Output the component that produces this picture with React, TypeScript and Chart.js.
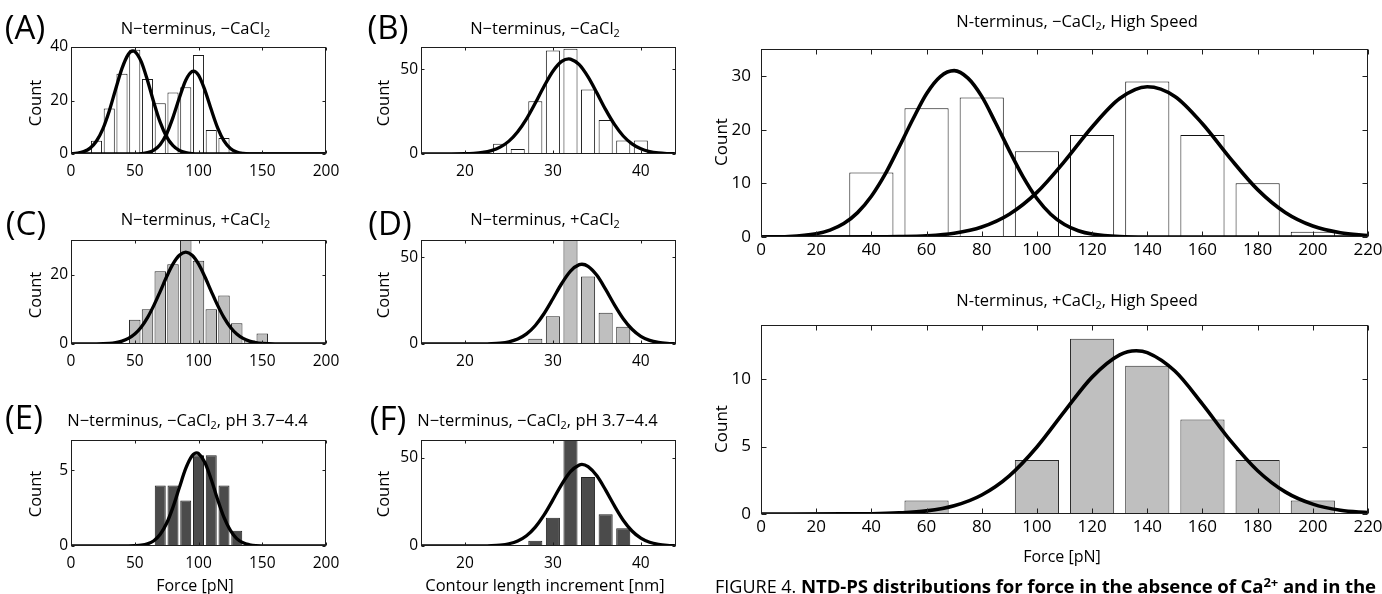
import React, { useEffect, useRef } from "react";
import { Chart, registerables } from "chart.js";

Chart.register(...registerables);

const SANS = "'Open Sans', 'Noto Sans', sans-serif";
Chart.defaults.font.family = SANS;

// ---------- tick labels ----------
const forceTicks200 = [0, 50, 100, 150, 200];
const contourTicks = [20, 30, 40];
const forceTicks220 = [0, 20, 40, 60, 80, 100, 120, 140, 160, 180, 200, 220];
const countTicksA = [0, 20, 40];
const countTicksB = [0, 50];
const countTicksC = [0, 20];
const countTicksD = [0, 50];
const countTicksE = [0, 5];
const countTicksF = [0, 50];
const countTicksHS1 = [0, 10, 20, 30];
const countTicksHS2 = [0, 5, 10];

// ---------- (A) force, -CaCl2 ----------
const forceBinsA = [20, 30, 40, 50, 60, 70, 80, 90, 100, 110, 120];
const forceCountsA = [5, 17, 30, 39, 28, 19, 23, 25, 37, 9, 6];
const fitA1X = [0, 5, 10, 15, 20, 25, 30, 35, 40, 45, 48.5, 50, 55, 60, 65, 70, 75, 80, 85, 90, 95, 100, 200];
const fitA1Y = [0.1, 0.31, 0.88, 2.2, 4.85, 9.4, 16.1, 24.2, 32.0, 37.3, 38.5, 38.3, 34.6, 27.5, 19.2, 11.8, 6.4, 3.1, 1.3, 0.48, 0.15, 0.05, 0];
const fitA2X = [0, 40, 50, 55, 60, 65, 70, 75, 80, 85, 90, 95, 96, 100, 105, 110, 115, 120, 125, 130, 135, 140, 150, 200];
const fitA2Y = [0, 0.01, 0.04, 0.14, 0.49, 1.43, 3.57, 7.56, 13.7, 21.0, 27.6, 30.9, 31.0, 29.5, 23.9, 16.6, 9.8, 4.9, 2.1, 0.77, 0.24, 0.06, 0.01, 0];

// ---------- (B) contour length, -CaCl2 ----------
const contourBinsB = [24, 26, 28, 30, 32, 34, 36, 38, 40, 42];
const contourCountsB = [6, 3, 31, 61, 62, 38, 20, 8, 8, 1];
const fitBX = [15, 20, 21, 22, 23, 24, 25, 26, 27, 28, 29, 30, 31, 31.8, 32, 33, 34, 35, 36, 37, 38, 39, 40, 41, 42, 43, 44];
const fitBY = [0, 0.14, 0.36, 0.88, 1.97, 4.03, 7.58, 13.1, 20.7, 30.0, 39.9, 48.7, 54.5, 56.0, 55.9, 52.6, 45.4, 36.0, 26.1, 17.4, 10.6, 5.95, 3.06, 1.44, 0.62, 0.25, 0.09];

// ---------- (C) force, +CaCl2 ----------
const forceBinsC = [50, 60, 70, 80, 90, 100, 110, 120, 130, 140, 150];
const forceCountsC = [7, 10, 21, 23, 30, 24, 10, 14, 6, 1, 3];
const fitCX = [0, 20, 30, 35, 40, 45, 50, 55, 60, 65, 70, 75, 80, 85, 90, 95, 100, 105, 110, 115, 120, 125, 130, 135, 140, 145, 150, 160, 200];
const fitCY = [0, 0.03, 0.18, 0.4, 0.83, 1.61, 2.89, 4.86, 7.62, 11.15, 15.2, 19.4, 23.1, 25.6, 26.5, 25.6, 23.1, 19.4, 15.2, 11.15, 7.62, 4.86, 2.89, 1.61, 0.83, 0.4, 0.18, 0.03, 0];

// ---------- (D) contour length, +CaCl2 ----------
const contourBinsD = [28, 30, 32, 34, 36, 38];
const contourCountsD = [3, 16, 60, 39, 18, 10];
const fitDX = [15, 22, 23, 24, 25, 26, 27, 28, 29, 30, 31, 32, 33, 33.3, 34, 35, 36, 37, 38, 39, 40, 41, 42, 43, 44];
const fitDY = [0, 0.06, 0.18, 0.51, 1.28, 2.87, 5.83, 10.7, 17.6, 26.1, 34.9, 42.1, 45.8, 46.0, 44.8, 39.6, 31.5, 22.6, 14.6, 8.5, 4.45, 2.1, 0.9, 0.34, 0.12];

// ---------- (E) force, -CaCl2, pH 3.7-4.4 ----------
const forceBinsE = [70, 80, 90, 100, 110, 120, 130];
const forceCountsE = [4, 4, 3, 6, 6, 4, 1];
const fitEX = [0, 40, 50, 55, 60, 65, 70, 75, 80, 85, 90, 95, 98.5, 100, 105, 110, 115, 120, 125, 130, 135, 140, 145, 150, 200];
const fitEY = [0, 0, 0.02, 0.05, 0.14, 0.35, 0.77, 1.5, 2.57, 3.86, 5.12, 5.96, 6.15, 6.11, 5.52, 4.39, 3.07, 1.89, 1.03, 0.49, 0.21, 0.08, 0.02, 0.01, 0];

// ---------- (F) contour length, -CaCl2, pH 3.7-4.4 ----------
const contourBinsF = [28, 30, 32, 34, 36, 38];
const contourCountsF = [3, 16, 60, 39, 18, 10];
const fitFX = [15, 22, 23, 24, 25, 26, 27, 28, 29, 30, 31, 32, 33, 33.3, 34, 35, 36, 37, 38, 39, 40, 41, 42, 43, 44];
const fitFY = [0, 0.06, 0.18, 0.51, 1.28, 2.87, 5.83, 10.7, 17.6, 26.1, 34.9, 42.1, 45.8, 46.2, 44.9, 39.7, 31.6, 22.7, 14.6, 8.5, 4.45, 2.1, 0.9, 0.34, 0.12];

// ---------- High speed, -CaCl2 ----------
const forceBinsHS1 = [40, 60, 80, 100, 120, 140, 160, 180, 200];
const forceCountsHS1 = [12, 24, 26, 16, 19, 29, 19, 10, 1];
const fitHS1aX = [0, 10, 20, 25, 30, 35, 40, 45, 50, 55, 60, 65, 70, 75, 80, 85, 90, 95, 100, 105, 110, 115, 120, 130, 140, 220];
const fitHS1aY = [0.01, 0.1, 0.6, 1.28, 2.5, 4.54, 7.59, 11.7, 16.7, 21.9, 26.7, 29.9, 31.0, 29.6, 26.2, 21.3, 16.1, 11.2, 7.17, 4.25, 2.32, 1.17, 0.55, 0.09, 0.01, 0];
const fitHS1bX = [0, 40, 50, 60, 70, 80, 90, 100, 110, 120, 130, 140, 150, 160, 170, 180, 190, 200, 210, 220];
const fitHS1bY = [0, 0.02, 0.07, 0.23, 0.71, 1.87, 4.25, 8.32, 14.1, 20.5, 25.8, 28.0, 26.2, 21.1, 14.7, 8.83, 4.57, 2.04, 0.79, 0.26];

// ---------- High speed, +CaCl2 ----------
const forceBinsHS2 = [60, 100, 120, 140, 160, 180, 200];
const forceCountsHS2 = [1, 4, 13, 11, 7, 4, 1];
const fitHS2X = [0, 30, 40, 50, 60, 70, 80, 90, 100, 110, 120, 130, 136, 140, 150, 160, 170, 180, 190, 200, 210, 220];
const fitHS2Y = [0, 0.01, 0.02, 0.08, 0.23, 0.61, 1.41, 2.83, 4.97, 7.61, 10.15, 11.8, 12.1, 11.97, 10.6, 8.15, 5.48, 3.21, 1.64, 0.73, 0.28, 0.1];

const WHITE = "#ffffff";
const LIGHT = "#bfbfbf";
const DARK = "#4b4b4b";

const boxPlugin = {
  id: "matlabBox",
  afterDatasetsDraw(chart: any, _a: any, opts: any) {
    const { ctx, chartArea: a, scales } = chart;
    const len = opts.tickLen || 3;
    ctx.save();
    ctx.strokeStyle = "#1e1e1e";
    ctx.lineWidth = 1;
    const L = Math.round(a.left) + 0.5;
    const R = Math.round(a.right) - 0.5;
    const T = Math.round(a.top) + 0.5;
    const B = Math.round(a.bottom) - 0.5;
    ctx.strokeRect(L, T, R - L, B - T);
    ctx.beginPath();
    scales.x.ticks.forEach((t: any) => {
      const p = Math.round(scales.x.getPixelForValue(t.value)) + 0.5;
      ctx.moveTo(p, B);
      ctx.lineTo(p, B - len);
      ctx.moveTo(p, T);
      ctx.lineTo(p, T + len);
    });
    scales.y.ticks.forEach((t: any) => {
      const p = Math.round(scales.y.getPixelForValue(t.value)) + 0.5;
      ctx.moveTo(L, p);
      ctx.lineTo(L + len, p);
      ctx.moveTo(R, p);
      ctx.lineTo(R - len, p);
    });
    ctx.stroke();
    ctx.restore();
  },
};

function HistPanel({ s }: { s: any }) {
  const ref = useRef<HTMLCanvasElement | null>(null);
  const yW = 60;
  const padT = 14;
  const padR = 24;
  const xH = s.big ? 34 : 40;
  const w = yW + (s.right - s.left) + padR;
  const h = padT + (s.bottom - s.top) + xH;
  useEffect(() => {
    const tickSize = s.big ? 17 : 15.5;
    const datasets: any[] = s.curves.map((c: any) => ({
      type: "line",
      data: c.x.map((x: number, i: number) => ({ x, y: c.y[i] })),
      borderColor: "#000",
      borderWidth: s.big ? 3.6 : 3.3,
      pointRadius: 0,
      cubicInterpolationMode: "monotone",
      fill: false,
      order: 0,
    }));
    datasets.push({
      type: "bar",
      data: s.bins.map((x: number, i: number) => ({ x, y: s.counts[i] })),
      backgroundColor: s.fill,
      borderColor: s.edge,
      borderWidth: 1,
      borderSkipped: false,
      barPercentage: s.barPct,
      categoryPercentage: 1,
      order: 1,
    });
    const chart = new Chart(ref.current as HTMLCanvasElement, {
      type: "bar",
      data: { datasets },
      options: {
        animation: false,
        responsive: false,
        maintainAspectRatio: false,
        devicePixelRatio: 1,
        events: [],
        layout: { padding: { top: padT, right: padR, left: 0, bottom: 0 } },
        plugins: {
          legend: { display: false },
          tooltip: { enabled: false },
          matlabBox: { tickLen: s.big ? 5 : 3 },
        } as any,
        scales: {
          x: {
            type: "linear",
            min: s.xMin,
            max: s.xMax,
            offset: false,
            grid: { display: false, drawTicks: false, offset: false },
            border: { display: false },
            ticks: {
              color: "#000",
              font: { family: SANS, size: tickSize },
              padding: s.big ? 2.5 : 8.5,
              maxRotation: 0,
              autoSkip: false,
            },
            afterBuildTicks: (sc: any) => {
              sc.ticks = s.xTicks.map((v: number) => ({ value: v }));
            },
            afterFit: (sc: any) => {
              sc.height = xH;
            },
          },
          y: {
            type: "linear",
            min: 0,
            max: s.yMax,
            grid: { display: false, drawTicks: false },
            border: { display: false },
            ticks: {
              color: "#000",
              font: { family: SANS, size: tickSize },
              padding: s.big ? 10 : 3,
            },
            afterBuildTicks: (sc: any) => {
              sc.ticks = s.yTicks.map((v: number) => ({ value: v }));
            },
            afterFit: (sc: any) => {
              sc.width = yW;
            },
          },
        } as any,
      } as any,
      plugins: [boxPlugin],
    });
    return () => chart.destroy();
  }, []);
  return (
    <canvas
      ref={ref}
      width={w}
      height={h}
      style={{ position: "absolute", left: s.left - yW, top: s.top - padT, width: w, height: h }}
    />
  );
}

const panels: any[] = [
  { left: 71, top: 47, right: 326, bottom: 154, xMin: 0, xMax: 200, xTicks: forceTicks200, yMax: 40, yTicks: countTicksA,
    bins: forceBinsA, counts: forceCountsA, fill: WHITE, edge: "#1a1a1a", barPct: 0.87,
    curves: [{ x: fitA1X, y: fitA1Y }, { x: fitA2X, y: fitA2Y }] },
  { left: 421, top: 47, right: 676, bottom: 154, xMin: 15, xMax: 44, xTicks: contourTicks, yMax: 63, yTicks: countTicksB,
    bins: contourBinsB, counts: contourCountsB, fill: WHITE, edge: "#1a1a1a", barPct: 0.8,
    curves: [{ x: fitBX, y: fitBY }] },
  { left: 71, top: 240, right: 326, bottom: 344, xMin: 0, xMax: 200, xTicks: forceTicks200, yMax: 30, yTicks: countTicksC,
    bins: forceBinsC, counts: forceCountsC, fill: LIGHT, edge: "#2a2a2a", barPct: 0.9,
    curves: [{ x: fitCX, y: fitCY }] },
  { left: 421, top: 240, right: 676, bottom: 344, xMin: 15, xMax: 44, xTicks: contourTicks, yMax: 60, yTicks: countTicksD,
    bins: contourBinsD, counts: contourCountsD, fill: LIGHT, edge: "#2a2a2a", barPct: 0.8,
    curves: [{ x: fitDX, y: fitDY }] },
  { left: 71, top: 440, right: 326, bottom: 546, xMin: 0, xMax: 200, xTicks: forceTicks200, yMax: 7, yTicks: countTicksE,
    bins: forceBinsE, counts: forceCountsE, fill: DARK, edge: "#1f1f1f", barPct: 0.86,
    curves: [{ x: fitEX, y: fitEY }] },
  { left: 421, top: 440, right: 676, bottom: 546, xMin: 15, xMax: 44, xTicks: contourTicks, yMax: 60, yTicks: countTicksF,
    bins: contourBinsF, counts: contourCountsF, fill: DARK, edge: "#1f1f1f", barPct: 0.8,
    curves: [{ x: fitFX, y: fitFY }] },
  { left: 761, top: 43, right: 1368, bottom: 237, xMin: 0, xMax: 220, xTicks: forceTicks220, yMax: 35, yTicks: countTicksHS1,
    bins: forceBinsHS1, counts: forceCountsHS1, fill: WHITE, edge: "#111111", barPct: 0.8, big: true,
    curves: [{ x: fitHS1aX, y: fitHS1aY }, { x: fitHS1bX, y: fitHS1bY }] },
  { left: 761, top: 319, right: 1368, bottom: 514, xMin: 0, xMax: 220, xTicks: forceTicks220, yMax: 14, yTicks: countTicksHS2,
    bins: forceBinsHS2, counts: forceCountsHS2, fill: LIGHT, edge: "#2a2a2a", barPct: 0.8, big: true,
    curves: [{ x: fitHS2X, y: fitHS2Y }] },
];

function Txt({ x, y, size, rot, weight, children }: any) {
  return (
    <div
      style={{
        position: "absolute",
        left: x,
        top: y,
        fontSize: size,
        lineHeight: 1,
        whiteSpace: "nowrap",
        fontWeight: weight || 400,
        color: "#000",
        transform: `translate(-50%, -50%)${rot ? ` rotate(${rot}deg)` : ""}`,
      }}
    >
      {children}
    </div>
  );
}

const Sub = ({ children }: any) => (
  <sub style={{ fontSize: "0.66em", verticalAlign: "-0.3em", lineHeight: 0 }}>{children}</sub>
);

export default function App() {
  useEffect(() => {
    document.body.style.margin = "0";
  }, []);
  const T = 16.5;
  const P = 33;
  return (
    <div
      style={{
        position: "absolute",
        left: 0,
        top: 0,
        width: 1382,
        height: 594,
        overflow: "hidden",
        background: "#fff",
        fontFamily: SANS,
      }}
    >
      {panels.map((p, i) => (
        <HistPanel key={i} s={p} />
      ))}

      {/* panel letters */}
      <Txt x={25} y={26} size={P}>(A)</Txt>
      <Txt x={388} y={26} size={P}>(B)</Txt>
      <Txt x={26} y={222} size={P}>(C)</Txt>
      <Txt x={390} y={222} size={P}>(D)</Txt>
      <Txt x={24} y={416} size={P}>(E)</Txt>
      <Txt x={388} y={417} size={P}>(F)</Txt>

      {/* titles */}
      <Txt x={195.5} y={27.5} size={T}>N−terminus, −CaCl<Sub>2</Sub></Txt>
      <Txt x={545} y={27.5} size={T}>N−terminus, −CaCl<Sub>2</Sub></Txt>
      <Txt x={195.5} y={219} size={T}>N−terminus, +CaCl<Sub>2</Sub></Txt>
      <Txt x={545} y={219} size={T}>N−terminus, +CaCl<Sub>2</Sub></Txt>
      <Txt x={187.5} y={420} size={T}>N−terminus, −CaCl<Sub>2</Sub>, pH 3.7−4.4</Txt>
      <Txt x={537.5} y={420} size={T}>N−terminus, −CaCl<Sub>2</Sub>, pH 3.7−4.4</Txt>
      <Txt x={1077} y={21} size={T}>N-terminus, −CaCl<Sub>2</Sub>, High Speed</Txt>
      <Txt x={1077} y={300} size={T}>N-terminus, +CaCl<Sub>2</Sub>, High Speed</Txt>

      {/* y axis labels */}
      <Txt x={35} y={103} size={16.5} rot={-90}>Count</Txt>
      <Txt x={383} y={103} size={16.5} rot={-90}>Count</Txt>
      <Txt x={35} y={295} size={16.5} rot={-90}>Count</Txt>
      <Txt x={383} y={295} size={16.5} rot={-90}>Count</Txt>
      <Txt x={35} y={494} size={16.5} rot={-90}>Count</Txt>
      <Txt x={383} y={494} size={16.5} rot={-90}>Count</Txt>
      <Txt x={720} y={142} size={17} rot={-90}>Count</Txt>
      <Txt x={720} y={429} size={17} rot={-90}>Count</Txt>

      {/* x axis labels */}
      <Txt x={195} y={585} size={16}>Force [pN]</Txt>
      <Txt x={545} y={585} size={16.5}>Contour length increment [nm]</Txt>
      <Txt x={1062} y={556} size={16}>Force [pN]</Txt>

      {/* caption */}
      <div
        style={{
          position: "absolute",
          left: 715,
          top: 586,
          transform: "translateY(-50%)",
          whiteSpace: "nowrap",
          lineHeight: 1,
          color: "#000",
        }}
      >
        <span style={{ fontSize: 18 }}>FIGURE 4. </span>
        <span style={{ fontSize: 18.6, fontWeight: 700, letterSpacing: -0.1 }}>
          NTD-PS distributions for force in the absence of Ca
          <sup style={{ fontSize: "0.7em", verticalAlign: "0.45em", lineHeight: 0 }}>2+</sup> and in the
        </span>
      </div>
    </div>
  );
}
